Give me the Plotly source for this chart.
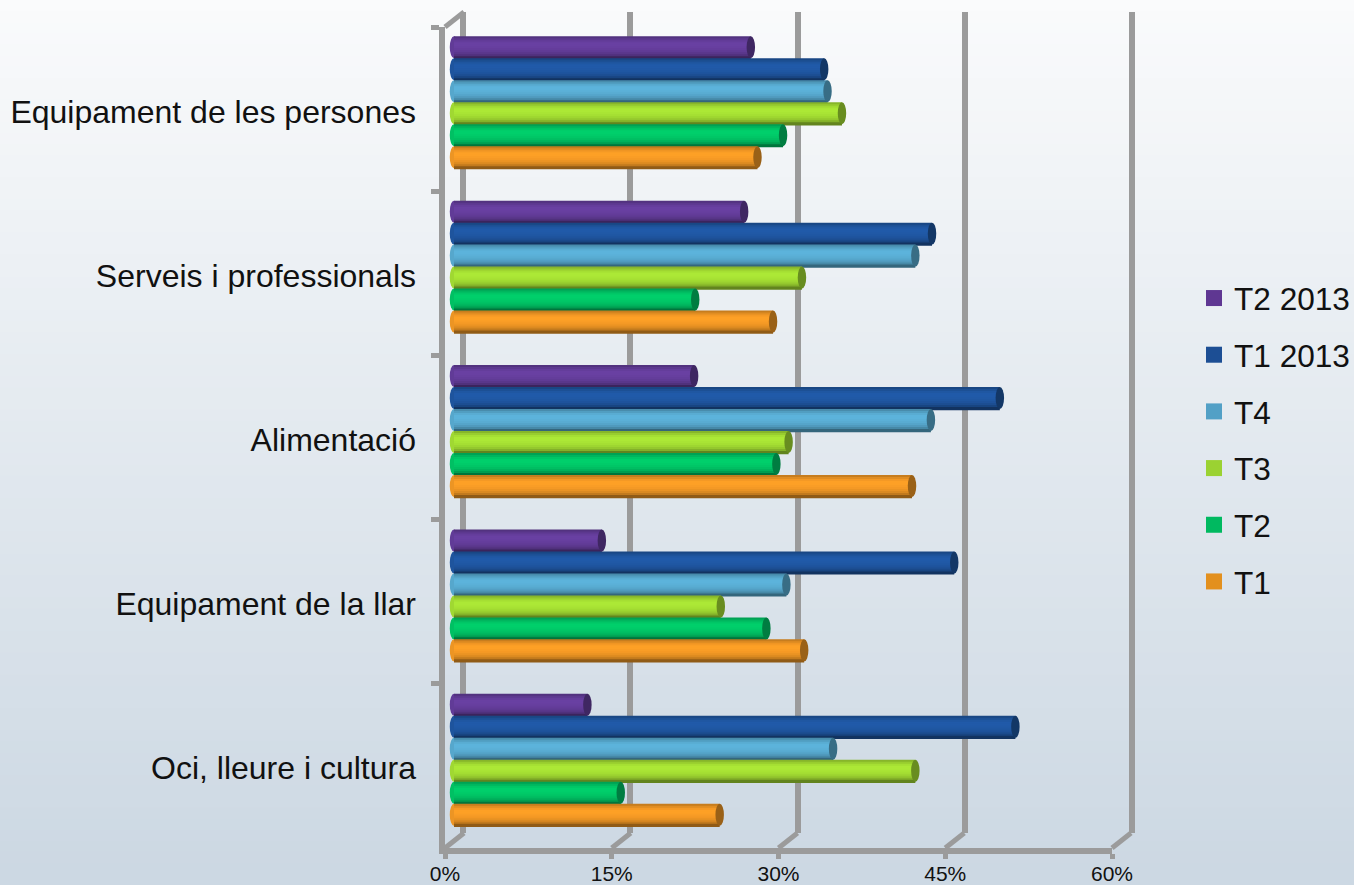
import plotly.graph_objects as go

categories = ["Equipament de les persones", "Serveis i professionals", "Alimentació",
              "Equipament de la llar", "Oci, lleure i cultura"]
t2_2013 = [26.7, 26.1, 21.6, 13.3, 12.0]
t1_2013 = [33.3, 43.0, 49.1, 45.0, 50.5]
t4 = [33.6, 41.5, 42.9, 29.9, 34.1]
t3 = [34.9, 31.3, 30.1, 24.0, 41.5]
t2 = [29.6, 21.7, 29.0, 28.1, 15.0]
t1 = [27.3, 28.7, 41.2, 31.5, 23.9]
series_names = ["T2 2013", "T1 2013", "T4", "T3", "T2", "T1"]
series_values = [t2_2013, t1_2013, t4, t3, t2, t1]
legend_colors = ["#5f3792", "#1c4e94", "#52a0c6", "#9bd232", "#00b960", "#e3901e"]
bar_colors = ["#673f9f", "#2059a6", "#5bb0d7", "#a9e435", "#00cb69", "#f99d26"]
x_ticks = [0, 15, 30, 45, 60]
x_tick_labels = ["0%", "15%", "30%", "45%", "60%"]

W, H = 1354, 885
GRAY = "#9b9b9b"
FONT = "Liberation Sans"
TEXT = "#111111"


def px(x):
    return x / W


def py(y):
    return 1 - y / H


def shade(hex_color, f):
    r, g, b = (int(hex_color[i:i + 2], 16) for i in (1, 3, 5))
    return "rgb({},{},{})".format(*(min(255, int(c * f)) for c in (r, g, b)))


fig = go.Figure()
shapes = []

STEPS = 80
for i in range(STEPS):
    t = i / (STEPS - 1)
    col = "rgb({},{},{})".format(int(250 - 46 * t), int(251 - 35 * t), int(252 - 25 * t))
    shapes.append(dict(type="rect", xref="paper", yref="paper", layer="below", line_width=0, fillcolor=col,
                       x0=0, x1=1, y0=py(H * (i + 1) / STEPS + 1), y1=py(H * i / STEPS)))

hidden = dict(mode="markers", marker_opacity=0, showlegend=False, hoverinfo="skip")
fig.add_trace(go.Scatter(x=[0], y=[0], xaxis="x", yaxis="y", **hidden))
fig.add_trace(go.Scatter(x=[0], y=[categories[0]], xaxis="x2", yaxis="y2", **hidden))
fig.add_trace(go.Scatter(x=[0], y=[categories[0]], xaxis="x2", yaxis="y4", **hidden))

profile = [0.80, 0.90, 0.98, 1.02, 1.02, 1.0, 0.98, 0.94, 0.88, 0.78, 0.58]
SLOT = 22 / 164.5
N = len(profile)
for s, (name, vals) in enumerate(zip(series_names, series_values)):
    start = (s - 3) * SLOT
    for k, f in enumerate(profile):
        fig.add_trace(go.Bar(x=vals, y=categories, orientation="h", xaxis="x3", yaxis="y3",
                             base=0, offset=start + k * SLOT / N, width=SLOT / N * 1.6,
                             marker=dict(color=shade(bar_colors[s], f), line_width=0),
                             showlegend=False, name=name, hovertemplate=name + ": %{x}%<extra></extra>"))
    for c, v in enumerate(vals):
        y0, y1 = c + start, c + start + SLOT
        shapes.append(dict(type="circle", xref="x3", yref="y3", layer="below", line_width=0,
                           fillcolor=shade(bar_colors[s], 0.95), x0=-0.38, x1=0.38, y0=y0, y1=y1))
        shapes.append(dict(type="circle", xref="x3", yref="y3", layer="above", line_width=0,
                           fillcolor=shade(bar_colors[s], 0.62), x0=v - 0.38, x1=v + 0.38, y0=y0, y1=y1))
    fig.add_trace(go.Scatter(x=[None], y=[None], xaxis="x3", yaxis="y3", mode="markers", name=name,
                             legendgroup=name,
                             marker=dict(symbol="square", size=16, color=legend_colors[s])))

FRONT0, FRONT60 = 445, 1112
for t in x_ticks:
    fx = FRONT0 + (FRONT60 - FRONT0) * t / 60
    shapes.append(dict(type="line", xref="paper", yref="paper", layer="below",
                       line=dict(color=GRAY, width=5),
                       x0=px(fx), x1=px(fx + 19), y0=py(848), y1=py(833)))
shapes.append(dict(type="line", xref="paper", yref="paper", layer="below",
                   line=dict(color=GRAY, width=5), x0=px(445), x1=px(464), y0=py(27), y1=py(12)))

BACK_U = (1132 - 463) / 60
BAR_U = (1121 - 454) / 60
fig.update_layout(
    width=W, height=H, margin=dict(l=0, r=0, t=0, b=0, autoexpand=False), autosize=False,
    paper_bgcolor="rgba(0,0,0,0)", plot_bgcolor="rgba(0,0,0,0)",
    barmode="overlay", shapes=shapes, showlegend=True,
    font=dict(family=FONT, color=TEXT),
    xaxis=dict(domain=[px(463 - BACK_U), px(1132 + BACK_U)], range=[-1, 61], tickvals=x_ticks, showgrid=True,
               gridcolor=GRAY, gridwidth=6, zeroline=False, showticklabels=False, ticks="", anchor="y"),
    yaxis=dict(domain=[py(833), py(12)], range=[-1, 1], showgrid=False, zeroline=False,
               showticklabels=False, ticks="", anchor="x"),
    xaxis2=dict(domain=[px(445), px(1112)], range=[0, 60], tickmode="array", tickvals=x_ticks,
                ticktext=x_tick_labels,
                showgrid=False, zeroline=False, showline=True, linecolor=GRAY, linewidth=6,
                ticks="outside", ticklen=5, tickwidth=5, tickcolor=GRAY, anchor="y2",
                tickfont=dict(size=21, family=FONT, color=TEXT), ticklabelstandoff=-3),
    yaxis2=dict(domain=[py(848), py(27)], type="category", categoryorder="array", categoryarray=categories,
                range=[4.5, -0.5], tickson="boundaries", showgrid=False, zeroline=False, showline=True,
                linecolor=GRAY, linewidth=6, ticks="outside", ticklen=8, tickwidth=5, tickcolor=GRAY,
                anchor="x2", showticklabels=False),
    yaxis4=dict(domain=[py(850), py(30)], type="category", categoryorder="array", categoryarray=categories,
                range=[4.5, -0.5], showgrid=False, zeroline=False, showline=False, ticks="",
                anchor="x2", tickfont=dict(size=32, family=FONT, color=TEXT), ticklabelstandoff=28),
    xaxis3=dict(domain=[px(454 - BAR_U), px(1121 + BAR_U)], range=[-1, 61], visible=False, anchor="y3"),
    yaxis3=dict(domain=[py(842), py(20)], type="category", categoryorder="array", categoryarray=categories,
                range=[4.5, -0.5], visible=False, anchor="x3"),
    legend=dict(x=px(1194), xanchor="left", y=py(271), yanchor="top", bgcolor="rgba(0,0,0,0)",
                tracegroupgap=12.6, font=dict(size=31.6, family=FONT, color=TEXT), traceorder="grouped"),
)

fig.write_html("out.html", post_script="document.body.style.margin='0';document.body.style.overflow='hidden';",
               config={"displayModeBar": False})
